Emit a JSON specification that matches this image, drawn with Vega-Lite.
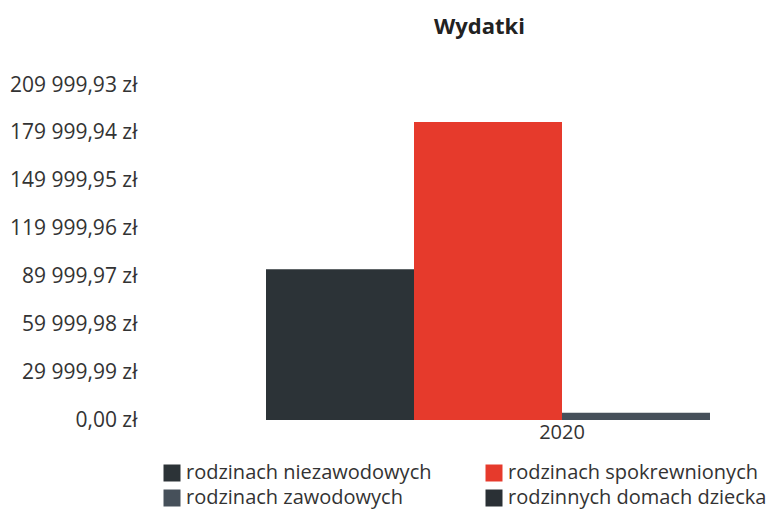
{
  "$schema": "https://vega.github.io/schema/vega-lite/v6.json",
  "autosize": {"type": "none"},
  "width": 625,
  "height": 335,
  "padding": {"left": 150, "top": 85, "right": 0, "bottom": 93},
  "background": "white",
  "config": {
    "font": "Open Sans",
    "view": {"stroke": null}
  },
  "title": {
    "text": "Wydatki",
    "fontSize": 22,
    "fontWeight": "bold",
    "color": "#222222",
    "anchor": "middle",
    "dx": 17,
    "offset": 35
  },
  "data": {
    "values": [
      {"rok": "2020", "seria": "rodzinach niezawodowych", "wartosc": 94500},
      {"rok": "2020", "seria": "rodzinach spokrewnionych", "wartosc": 186800},
      {"rok": "2020", "seria": "rodzinach zawodowych", "wartosc": 4500},
      {"rok": "2020", "seria": "rodzinnych domach dziecka", "wartosc": 0}
    ]
  },
  "mark": {"type": "bar"},
  "encoding": {
    "x": {
      "field": "rok",
      "type": "nominal",
      "scale": {"range": [116, 708], "paddingInner": 0, "paddingOuter": 0},
      "axis": {
        "title": null,
        "domain": false,
        "ticks": false,
        "labelAngle": 0,
        "labelFontSize": 20,
        "labelColor": "#333333",
        "labelPadding": 2
      }
    },
    "xOffset": {
      "field": "seria",
      "type": "nominal",
      "sort": ["rodzinach niezawodowych", "rodzinach spokrewnionych", "rodzinach zawodowych", "rodzinnych domach dziecka"],
      "scale": {"paddingInner": 0, "paddingOuter": 0}
    },
    "y": {
      "field": "wartosc",
      "type": "quantitative",
      "scale": {"domain": [0, 209999.93], "nice": false, "zero": true},
      "axis": {
        "title": null,
        "grid": false,
        "domain": false,
        "ticks": false,
        "values": [0, 29999.99, 59999.98, 89999.97, 119999.96, 149999.95, 179999.94, 209999.93],
        "labelExpr": "replace(replace(format(datum.value, ',.2f'), ',', ' '), '.', ',') + ' zł'",
        "labelFontSize": 21,
        "labelColor": "#333333",
        "labelPadding": 13
      }
    },
    "color": {
      "field": "seria",
      "type": "nominal",
      "sort": ["rodzinach niezawodowych", "rodzinach spokrewnionych", "rodzinach zawodowych", "rodzinnych domach dziecka"],
      "scale": {
        "domain": ["rodzinach niezawodowych", "rodzinach spokrewnionych", "rodzinach zawodowych", "rodzinnych domach dziecka"],
        "range": ["#2c3337", "#e63a2c", "#46505a", "#2a3035"]
      },
      "legend": {
        "title": null,
        "orient": "none",
        "direction": "horizontal",
        "legendX": 12,
        "legendY": 378,
        "columns": 2,
        "columnPadding": 52,
        "rowPadding": 5,
        "symbolType": "square",
        "symbolSize": 289,
        "symbolStrokeWidth": 0,
        "symbolOpacity": 1,
        "labelFontSize": 20,
        "labelLimit": 400,
        "labelColor": "#333333",
        "labelOffset": 4
      }
    }
  }
}
